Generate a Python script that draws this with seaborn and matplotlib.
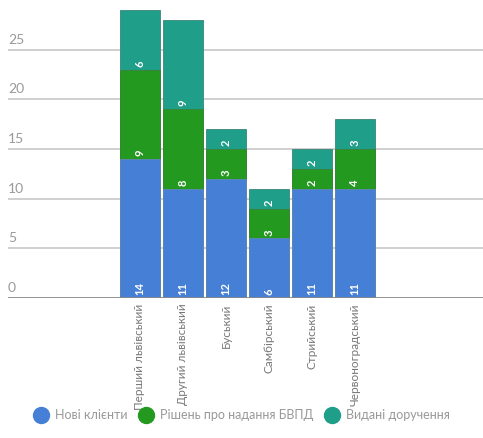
import numpy as np
import pandas as pd
import seaborn as sns
import matplotlib.pyplot as plt
from matplotlib.lines import Line2D
from matplotlib.transforms import blended_transform_factory

# data
districts = ["Перший львівський", "Другий львівський", "Буський",
             "Самбірський", "Стрийський", "Червоноградський"]
new_clients = [14, 11, 12, 6, 11, 11]
decisions = [9, 8, 3, 3, 2, 4]
orders = [6, 9, 2, 2, 2, 3]
series_names = ["Нові клієнти", "Рішень про надання БВПД", "Видані доручення"]
colors = ["#4680d6", "#23991f", "#1f9e89"]
yticks = [0, 5, 10, 15, 20, 25]

sns.set_style("white")
plt.rcParams['font.family'] = ['Lato', 'DejaVu Sans']

fig = plt.figure(figsize=(4.83, 4.38), dpi=100)
ax = fig.add_axes([8 / 483, 1 - 298 / 438, 1 - 8 / 483, 298 / 438])

df = pd.DataFrame({"district": districts, "new": new_clients,
                   "dec": decisions, "ord": orders})
df["lvl1"] = df["new"]
df["lvl2"] = df["new"] + df["dec"]
df["lvl3"] = df["lvl2"] + df["ord"]

# gridlines first
for v in yticks[1:]:
    ax.axhline(v, color="#cccccc", lw=1.3, zorder=0)

# stacked bars, drawn back to front
for col, c in zip(["lvl3", "lvl2", "lvl1"], colors[::-1]):
    sns.barplot(data=df, x="district", y=col, color=c, width=0.93,
                order=districts, saturation=1, ax=ax, zorder=2,
                edgecolor=sns.desaturate(c, 0.6), linewidth=0.6)

ax.axhline(0, color="#888888", lw=2, zorder=3)

# segment labels
bottoms = [np.zeros(6), df["lvl1"].values, df["lvl2"].values]
for vals, bot in zip([new_clients, decisions, orders], bottoms):
    for i, (v, b) in enumerate(zip(vals, bot)):
        ax.annotate(str(v), (i, b), xytext=(0, 2), textcoords="offset points",
                    rotation=90, ha="center", va="bottom", color="white",
                    fontsize=8, fontweight="bold", zorder=4)

ax.set_xlim(-3.07, 7.98)
ax.set_ylim(0, 30)
ax.set_xlabel("")
ax.set_ylabel("")
ax.set_yticks([])
trans = blended_transform_factory(ax.transAxes, ax.transData)
for v in yticks:
    ax.text(0.0, v + 0.4, str(v), transform=trans, ha="left", va="bottom",
            fontsize=10, color="#999999")

ax.set_xticks(range(len(districts)))
ax.set_xticklabels(districts, rotation=90, fontsize=8.5, color="#777777")
ax.tick_params(axis="x", length=0, pad=4)
for s in ax.spines.values():
    s.set_visible(False)

# legend
handles = [Line2D([], [], marker="o", ls="", markersize=11.5,
                  markerfacecolor=c, markeredgecolor=c) for c in colors]
fig.legend(handles, series_names, loc="center", ncol=3,
           bbox_to_anchor=(0.5, 1 - 415 / 438), frameon=False,
           fontsize=9, labelcolor="#999999", handletextpad=0.5,
           columnspacing=0.8, handlelength=1.3)

fig.savefig("out.png", dpi=100)
